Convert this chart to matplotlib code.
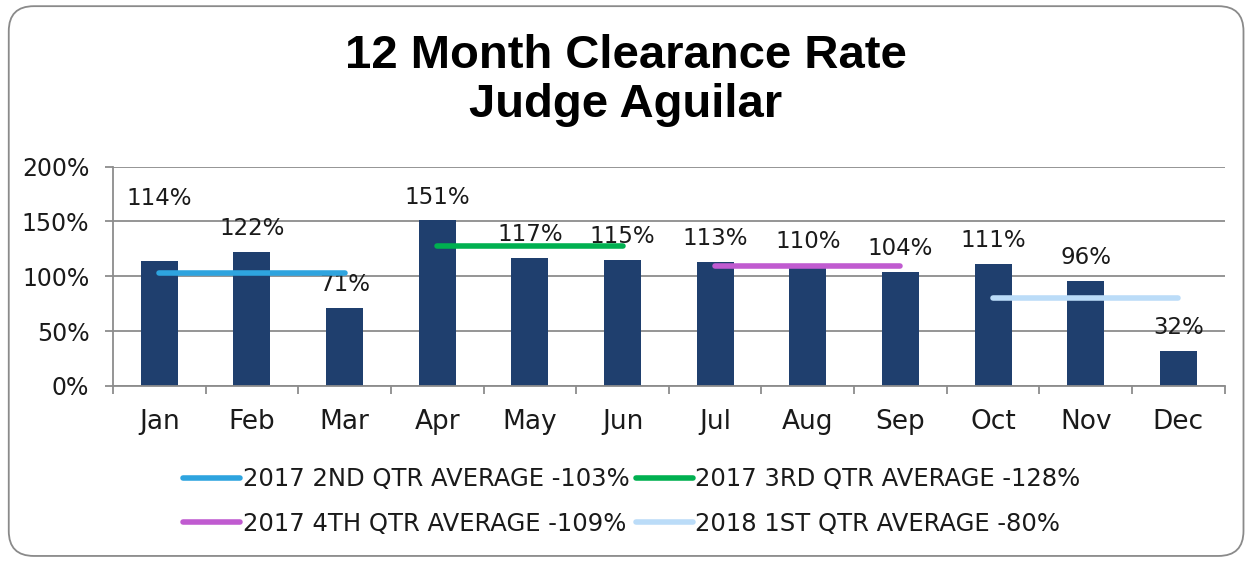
import matplotlib.pyplot as plt
from matplotlib.patches import FancyBboxPatch

# 数据
months = ["Jan", "Feb", "Mar", "Apr", "May", "Jun",
          "Jul", "Aug", "Sep", "Oct", "Nov", "Dec"]
rates = [114, 122, 71, 151, 117, 115, 113, 110, 104, 111, 96, 32]

quarter_names = ["2017 2ND QTR AVERAGE -103%", "2017 3RD QTR AVERAGE -128%",
                 "2017 4TH QTR AVERAGE -109%", "2018 1ST QTR AVERAGE -80%"]
quarter_avgs = [103, 128, 109, 80]
quarter_months = [["Jan", "Feb", "Mar"], ["Apr", "May", "Jun"],
                  ["Jul", "Aug", "Sep"], ["Oct", "Nov", "Dec"]]
quarter_colors = ["#2EA4DF", "#00B050", "#C05BD0", "#BBDCF8"]

plt.rcParams["font.family"] = ["DejaVu Sans"]
text_color = "#1a1a1a"
grid_color = "#8c8c8c"

fig = plt.figure(figsize=(12.51, 5.61), dpi=100)
ax = fig.add_axes([0.0903, 0.312, 0.8887, 0.3911])

# 外框
frame = FancyBboxPatch((0.007, 0.009), 0.987, 0.98,
                       boxstyle="round,pad=0,rounding_size=0.02",
                       transform=fig.transFigure, facecolor="none",
                       edgecolor="#8a8a8a", linewidth=1.3,
                       mutation_aspect=1251 / 561)
fig.patches.append(frame)

x = list(range(len(months)))
ax.bar(x, rates, width=0.4, color="#1F3F6E", zorder=2)

# 数据标签
for i, v in enumerate(rates):
    offset = 37 if i == 0 else 8.5
    ax.annotate(f"{v}%", (i, v), xytext=(0, offset), textcoords="offset points",
                ha="center", va="bottom", fontsize=16.5, color=text_color)

# 季度平均线
lines = []
for name, avg, ms, c in zip(quarter_names, quarter_avgs, quarter_months, quarter_colors):
    xs = [months.index(m) for m in ms]
    ln, = ax.plot([xs[0], xs[-1]], [avg, avg], color=c, linewidth=4,
                  solid_capstyle="round", label=name, zorder=3)
    lines.append(ln)

ax.set_xlim(-0.5, len(months) - 0.5)
ax.set_ylim(0, 200)
ax.set_yticks([0, 50, 100, 150, 200])
ax.set_yticklabels([f"{t}%" for t in [0, 50, 100, 150, 200]])
ax.set_xticks(x)
ax.set_xticklabels(months)
ax.set_xticks([i - 0.5 for i in range(len(months) + 1)], minor=True)
ax.tick_params(axis="x", which="major", length=0, pad=16.5, labelsize=19, colors=text_color)
ax.tick_params(axis="x", which="minor", length=6, width=1.3, color=grid_color)
ax.tick_params(axis="y", length=6, width=1.3, color=grid_color, labelsize=17,
               labelcolor=text_color, pad=11)

ax.grid(axis="y", color=grid_color, linewidth=1.3, zorder=0)
ax.set_axisbelow(True)
for s in ["top", "right"]:
    ax.spines[s].set_visible(False)
for s in ["left", "bottom"]:
    ax.spines[s].set_color(grid_color)
    ax.spines[s].set_linewidth(1.3)

fig.text(0.5, 0.857, "12 Month Clearance Rate\nJudge Aguilar", ha="center", va="center",
         fontsize=34, fontweight="bold", family="Liberation Sans", color="black",
         linespacing=1.15)

# 图例按行排列
order = [0, 2, 1, 3]
fig.legend([lines[i] for i in order], [quarter_names[i] for i in order],
           loc="center", bbox_to_anchor=(0.505, 0.106), ncol=2, frameon=False,
           fontsize=17.5, handlelength=2.35, handletextpad=0.1, columnspacing=0.25,
           labelspacing=0.85, labelcolor=text_color)

plt.savefig("out.png", dpi=100)
